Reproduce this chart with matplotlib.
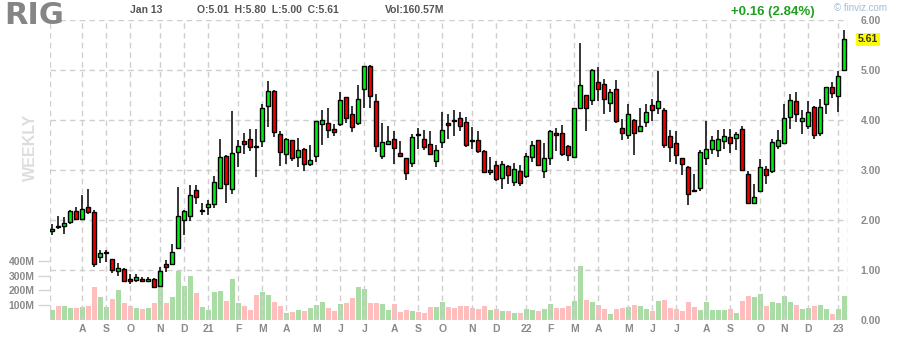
import matplotlib
matplotlib.use("Agg")
import matplotlib.pyplot as plt
import numpy as np
import pandas as pd

# weekly bars, Friday dates
first_week = "2020-07-03"
opens = [1.79, 1.89, 1.89, 1.97, 2.19, 2.03, 2.27, 2.17, 1.27, 1.35,
         1.23, 0.99, 1.03, 0.83, 0.81, 0.83, 0.79, 0.83, 0.69, 1.13,
         1.13, 1.45, 2.01, 2.09, 2.61, 2.18, 2.26, 2.33, 2.65, 3.29,
         2.63, 3.37, 3.59, 3.63, 3.47, 3.59, 4.29, 4.59, 3.73, 3.33,
         3.61, 3.27, 3.43, 3.13, 3.29, 3.93, 3.95, 3.83, 3.93, 4.45,
         4.11, 3.95, 4.61, 5.09, 4.39, 3.29, 3.53, 3.63, 3.35, 3.25,
         3.15, 3.71, 3.63, 3.53, 3.19, 3.57, 3.95, 4.00, 4.05, 3.95,
         3.59, 3.61, 3.39, 2.97, 3.11, 2.85, 3.09, 2.77, 2.99, 2.89,
         3.27, 3.60, 2.99, 3.25, 3.75, 3.75, 3.49, 3.27, 4.25, 4.51,
         4.41, 4.77, 4.71, 4.35, 4.63, 3.85, 3.71, 3.99, 3.79, 3.97,
         4.29, 4.23, 4.19, 3.69, 3.55, 3.25, 3.06, 2.61, 2.65, 3.25,
         3.43, 3.41, 3.59, 3.67, 3.65, 3.83, 2.93, 2.35, 2.59, 3.03,
         2.99, 3.49, 3.55, 4.07, 4.39, 3.99, 3.89, 4.27, 3.75, 4.33,
         4.65, 4.49, 5.01]
highs = [1.93, 2.08, 2.07, 2.21, 2.27, 2.50, 2.62, 2.20, 1.40, 1.40,
         1.23, 1.15, 1.05, 0.92, 0.93, 0.87, 0.87, 0.85, 1.07, 1.20,
         1.53, 2.67, 2.21, 2.70, 2.70, 2.35, 2.40, 2.88, 3.62, 3.30,
         4.18, 3.60, 3.75, 3.83, 3.82, 4.33, 4.79, 4.60, 3.79, 3.65,
         3.61, 3.65, 3.45, 3.51, 3.99, 4.19, 4.25, 3.93, 4.57, 4.47,
         4.29, 4.71, 5.09, 5.10, 4.52, 3.94, 3.88, 3.78, 3.58, 3.25,
         3.73, 3.84, 3.80, 3.78, 3.51, 4.16, 4.11, 4.20, 4.16, 4.07,
         3.86, 3.79, 3.41, 3.27, 3.19, 3.19, 3.11, 3.15, 3.11, 3.35,
         3.59, 3.61, 3.55, 3.80, 3.85, 3.91, 3.51, 4.23, 5.55, 4.51,
         5.03, 5.07, 4.83, 4.63, 4.81, 4.03, 4.32, 4.03, 4.23, 4.32,
         4.43, 4.99, 4.23, 3.81, 3.79, 3.25, 3.08, 2.92, 3.41, 3.99,
         3.69, 3.81, 3.83, 3.83, 3.77, 3.89, 2.99, 2.73, 3.23, 3.09,
         3.63, 3.81, 4.33, 4.53, 4.57, 4.21, 4.39, 4.29, 4.43, 4.65,
         4.77, 4.99, 5.80]
lows = [1.71, 1.82, 1.73, 1.93, 2.00, 2.01, 2.13, 1.07, 1.15, 1.17,
        0.95, 0.88, 0.78, 0.73, 0.77, 0.77, 0.77, 0.65, 0.67, 0.97,
        1.11, 1.43, 1.70, 1.99, 2.33, 2.11, 2.11, 2.25, 2.62, 2.35,
        2.53, 3.07, 3.33, 3.39, 2.87, 3.47, 3.87, 3.67, 3.09, 3.13,
        3.19, 3.07, 2.99, 3.09, 3.17, 3.51, 3.65, 3.68, 3.89, 3.95,
        3.76, 3.91, 4.23, 4.25, 3.37, 3.23, 3.50, 3.13, 3.26, 2.81,
        3.07, 3.42, 3.40, 3.30, 3.07, 3.45, 3.63, 3.68, 3.78, 3.47,
        3.42, 3.35, 2.95, 2.91, 2.79, 2.63, 2.73, 2.69, 2.69, 2.85,
        3.17, 3.09, 2.85, 3.11, 3.39, 3.29, 3.19, 3.25, 4.23, 3.79,
        4.31, 4.39, 4.13, 4.17, 3.95, 3.61, 3.63, 3.31, 3.77, 3.87,
        3.99, 4.13, 3.45, 3.17, 3.13, 2.91, 2.31, 2.57, 2.59, 3.10,
        3.33, 3.27, 3.43, 3.35, 3.41, 2.99, 2.33, 2.33, 2.57, 2.73,
        2.95, 3.43, 3.53, 3.83, 3.97, 3.73, 3.83, 3.63, 3.69, 4.11,
        4.45, 4.15, 5.00]
closes = [1.83, 1.87, 1.95, 2.19, 2.03, 2.23, 2.17, 1.13, 1.35, 1.36,
          1.00, 1.05, 0.79, 0.79, 0.87, 0.79, 0.83, 0.67, 0.99, 1.07,
          1.37, 2.07, 2.18, 2.51, 2.47, 2.19, 2.32, 2.77, 3.27, 2.73,
          3.35, 3.49, 3.53, 3.47, 3.46, 4.25, 4.57, 3.77, 3.37, 3.63,
          3.25, 3.41, 3.13, 3.21, 3.99, 4.01, 3.81, 3.77, 4.41, 4.05,
          3.87, 4.43, 5.07, 4.48, 3.49, 3.57, 3.59, 3.45, 3.29, 2.95,
          3.67, 3.70, 3.47, 3.33, 3.41, 3.81, 3.91, 3.99, 3.89, 3.51,
          3.58, 3.39, 2.97, 3.01, 2.83, 3.13, 2.91, 3.03, 2.75, 3.29,
          3.51, 3.11, 3.25, 3.78, 3.71, 3.33, 3.31, 4.23, 4.71, 4.25,
          5.01, 4.63, 4.43, 4.57, 3.99, 3.75, 4.11, 3.75, 3.89, 4.17,
          4.19, 4.39, 3.51, 3.47, 3.31, 3.13, 2.53, 2.59, 3.37, 3.43,
          3.61, 3.63, 3.69, 3.55, 3.73, 3.01, 2.35, 2.47, 3.07, 2.91,
          3.57, 3.61, 4.05, 4.41, 4.13, 4.05, 4.17, 3.71, 4.27, 4.65,
          4.55, 4.89, 5.61]
# volume in millions of shares
volumes = [68, 95, 95, 81, 81, 88, 95, 223, 155, 88,
           142, 203, 115, 95, 81, 74, 81, 115, 264, 115,
           155, 331, 230, 297, 182, 88, 68, 189, 196, 128,
           277, 115, 95, 68, 169, 189, 169, 122, 95, 47,
           54, 68, 61, 81, 101, 122, 81, 61, 108, 115,
           149, 223, 209, 115, 115, 108, 68, 108, 54, 68,
           61, 54, 47, 88, 88, 122, 88, 81, 95, 95,
           81, 74, 95, 68, 74, 61, 61, 47, 47, 74,
           70, 61, 77, 108, 81, 81, 95, 128, 365, 135,
           122, 101, 74, 41, 74, 81, 88, 101, 95, 74,
           61, 128, 135, 81, 74, 61, 122, 88, 68, 122,
           68, 68, 68, 74, 47, 128, 162, 155, 176, 95,
           122, 115, 162, 122, 101, 74, 81, 95, 101, 74,
           41, 74, 160.57]
# last session change shown in the header
day_change = 0.16
day_change_pct = 2.84

price_ticks = [0, 1, 2, 3, 4, 5, 6]
vol_ticks = [100, 200, 300, 400]

W, H = 898, 340
GREY = "#8a8a8a"
FONT = "Liberation Sans"

dates = pd.date_range(first_week, periods=len(closes), freq="7D")
x = np.arange(len(closes))
o = np.array(opens)
c = np.array(closes)
up = c >= o

fig = plt.figure(figsize=(W / 100, H / 100), dpi=100)
ax = fig.add_axes([50 / W, 20 / H, 798 / W, 300 / H])
axv = ax.twinx()
ax.set_zorder(axv.get_zorder() + 1)
ax.patch.set_visible(False)

# volume underneath
axv.bar(x, volumes, width=0.82, color=np.where(up, "#a9dda5", "#ffbdbd"),
        linewidth=0, zorder=2)
axv.set_ylim(0, 300 / 0.148)

# month grid
months = [d.month for d in dates]
tick_idx = [i for i in range(1, len(dates)) if months[i] != months[i - 1]]
tick_lab = []
for i in tick_idx:
    d = dates[i]
    tick_lab.append(d.strftime("%y") if d.month == 1 else d.strftime("%b")[0])

for v in tick_idx + [-0.38, 132.62]:
    ax.axvline(v, color="#cfcfcf", lw=1, ls=(0, (4, 3)), zorder=0)
for p in price_ticks:
    ax.axhline(p, color="#cfcfcf", lw=1, ls=(0, (4, 3)), zorder=0)

# candles
ax.vlines(x, lows, highs, color="black", lw=1.1, zorder=3)
body = np.maximum(np.abs(c - o), 0.012)
ax.bar(x, body, bottom=np.minimum(o, c), width=0.72,
       color=np.where(up, "#00ee11", "#ee0000"), edgecolor="black",
       linewidth=1.0, zorder=4)

ax.set_xlim(-0.38, 132.62)
ax.set_ylim(0, 6)
for s in list(ax.spines.values()) + list(axv.spines.values()):
    s.set_visible(False)

ax.set_xticks(tick_idx)
ax.set_xticklabels(tick_lab)
ax.tick_params(axis="x", length=0, pad=3, labelsize=7.5, labelcolor=GREY)
ax.yaxis.tick_right()
ax.set_yticks(price_ticks)
ax.set_yticklabels([f"{p:.2f}" for p in price_ticks])
ax.tick_params(axis="y", length=0, pad=9, labelsize=7.5, labelcolor=GREY)

axv.yaxis.tick_left()
axv.set_yticks(vol_ticks)
axv.set_yticklabels([f"{v}M" for v in vol_ticks])
axv.tick_params(axis="y", length=9, width=1, color="#d5d5d5", pad=2,
                labelsize=7.5, labelcolor=GREY)
for lab in ax.get_xticklabels() + ax.get_yticklabels() + axv.get_yticklabels():
    lab.set_fontfamily(FONT)
    lab.set_fontweight("bold")

# last price box
ax.text(1.0 + 10 / 798, c[-1], f"{c[-1]:.2f}", transform=ax.get_yaxis_transform(),
        ha="left", va="center", fontsize=7.5, fontweight="bold", family=FONT,
        color="#333333", bbox=dict(boxstyle="square,pad=0.15", fc="#ffff00", ec="none"))

# header
def fx(px):
    return px / W

def fy(py):
    return 1 - py / H

fig.text(fx(30), fy(147), "WEEKLY", rotation=90, ha="center", va="center",
         fontsize=11.5, fontweight="bold", family=FONT, color="#dddddd")
fig.text(fx(4), fy(16), "RIG", ha="left", va="center", fontsize=22,
         fontweight="bold", family="DejaVu Sans", color="#858585")
fig.text(fx(130), fy(10), dates[-1].strftime("%b %d").replace(" 0", " "),
         ha="left", va="center", fontsize=7.5, fontweight="bold", family=FONT, color="#555555")
fig.text(fx(197), fy(10),
         f"O:{opens[-1]:.2f}  H:{highs[-1]:.2f}  L:{lows[-1]:.2f}  C:{closes[-1]:.2f}",
         ha="left", va="center", fontsize=7.5, fontweight="bold", family=FONT, color="#555555")
fig.text(fx(385), fy(10), f"Vol:{volumes[-1]:.2f}M", ha="left", va="center",
         fontsize=7.5, fontweight="bold", family=FONT, color="#555555")
fig.text(fx(815), fy(12), f"+{day_change:.2f} ({day_change_pct:.2f}%)", ha="right",
         va="center", fontsize=9.5, fontweight="bold", family=FONT, color="#1fa01f")
fig.text(fx(834), fy(8), "\u00a9 finviz.com", ha="left", va="center", fontsize=7,
         family=FONT, color="#9fbfd8")

fig.savefig("out.png", dpi=100)
